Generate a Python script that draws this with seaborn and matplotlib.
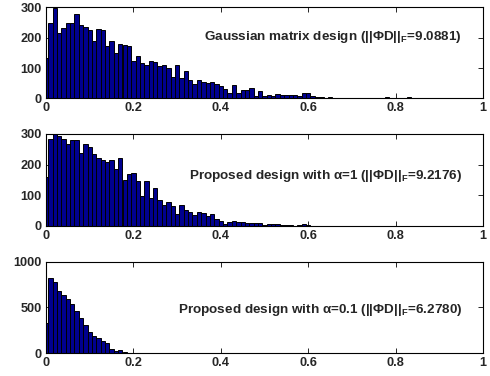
import numpy as np
import pandas as pd
import matplotlib
matplotlib.use("Agg")
import matplotlib.pyplot as plt
import seaborn as sns


# bin centres 0, 0.01, ..., 1.00 (MATLAB-style hist, 101 bins)
bin_centers = [round(0.01 * k, 2) for k in range(101)]

gauss_counts = [
    133, 250, 298, 217, 233, 250, 248, 280, 241, 234,
    224, 190, 230, 225, 173, 190, 150, 179, 177, 172,
    123, 139, 117, 111, 122, 120, 106, 111, 99, 70,
    111, 66, 91, 61, 46, 61, 54, 50, 54, 46,
    39, 31, 19, 44, 17, 28, 28, 33, 8, 23,
    6, 10, 6, 14, 10, 10, 10, 10, 7, 16,
    17, 9, 5, 3, 2, 3, 1, 0, 2, 1,
    2, 0, 1, 0, 2, 1, 2, 0, 3, 0,
    2, 1, 0, 3, 0, 1, 0, 0, 0, 0,
    0, 0, 0, 0, 0, 0, 0, 0, 0, 0,
    0,
]

alpha1_counts = [
    159, 285, 300, 294, 284, 266, 281, 280, 238, 266,
    257, 236, 221, 216, 208, 216, 186, 221, 149, 169,
    172, 148, 97, 146, 90, 124, 85, 70, 79, 65,
    38, 68, 51, 45, 36, 46, 43, 34, 39, 22,
    15, 8, 13, 15, 12, 12, 11, 11, 10, 9,
    4, 6, 5, 5, 4, 3, 2, 1, 3, 5,
    2, 1, 1, 0, 1, 0, 0, 0, 0, 0,
    0, 0, 0, 0, 0, 0, 0, 0, 0, 0,
    0, 0, 0, 0, 0, 0, 0, 0, 0, 0,
    0, 0, 0, 0, 0, 0, 0, 0, 0, 0,
    0,
]

alpha01_counts = [
    326, 826, 778, 678, 637, 593, 537, 459, 389, 304,
    230, 193, 170, 137, 111, 52, 30, 37, 11, 7,
    6, 4, 3, 2, 2, 1, 1, 1, 1, 0,
    0, 0, 0, 0, 0, 0, 0, 0, 0, 0,
    0, 0, 0, 0, 0, 0, 0, 0, 0, 0,
    0, 0, 0, 0, 0, 0, 0, 0, 0, 0,
    0, 0, 0, 0, 0, 0, 0, 0, 0, 0,
    0, 0, 0, 0, 0, 0, 0, 0, 0, 0,
    0, 0, 0, 0, 0, 0, 0, 0, 0, 0,
    0, 0, 0, 0, 0, 0, 0, 0, 0, 0,
    0,
]

labels = [
    r"Gaussian matrix design (||ΦD||$_\mathbf{F}$=9.0881)",
    r"Proposed design with α=1 (||ΦD||$_\mathbf{F}$=9.2176)",
    r"Proposed design with α=0.1 (||ΦD||$_\mathbf{F}$=6.2780)",
]
yticks = [[0, 100, 200, 300], [0, 100, 200, 300], [0, 500, 1000]]
ylims = [300, 300, 1000]
xticks = [0, 0.2, 0.4, 0.6, 0.8, 1]
xticklabels = ["0", "0.2", "0.4", "0.6", "0.8", "1"]


sns.set_style("ticks")
plt.rcParams['font.family'] = ['Liberation Sans', 'DejaVu Sans']
plt.rcParams['font.weight'] = 'bold'
plt.rcParams['mathtext.fontset'] = 'custom'
plt.rcParams['mathtext.rm'] = 'Liberation Sans:bold'
plt.rcParams['mathtext.bf'] = 'Liberation Sans:bold'

fig = plt.figure(figsize=(4.9, 3.76), dpi=100)

# axes boxes in figure fractions
boxes = [
    [0.0939, 0.7386, 0.892, 0.2415],
    [0.0939, 0.3990, 0.892, 0.2447],
    [0.0939, 0.0604, 0.892, 0.2436],
]
text_y = [0.675, 0.54, 0.47]

series = [gauss_counts, alpha1_counts, alpha01_counts]

for i in range(3):
    ax = fig.add_axes(boxes[i])
    df = pd.DataFrame({"value": bin_centers, "count": series[i]})
    sns.barplot(
        data=df, x="value", y="count", native_scale=True, width=1,
        color="#00008F", saturation=1, edgecolor="black", linewidth=0.7,
        errorbar=None, ax=ax
    )
    ax.set_xlim(0, 1)
    ax.set_ylim(0, ylims[i])
    ax.set_xticks(xticks)
    ax.set_xticklabels(xticklabels, fontweight="bold", fontsize=9.2)
    ax.set_yticks(yticks[i])
    ax.set_yticklabels([str(t) for t in yticks[i]], fontweight="bold",
                       fontsize=9.2)
    ax.set_xlabel("")
    ax.set_ylabel("")
    ax.tick_params(direction="in", top=True, right=True, length=3.5,
                   width=0.7, pad=3)
    for sp in ax.spines.values():
        sp.set_visible(True)
        sp.set_linewidth(0.8)
        sp.set_color("black")
    ax.text(0.952, text_y[i], labels[i], transform=ax.transAxes,
            ha="right", va="center", fontsize=9.7, fontweight="bold")

plt.savefig("out.png", dpi=100)
